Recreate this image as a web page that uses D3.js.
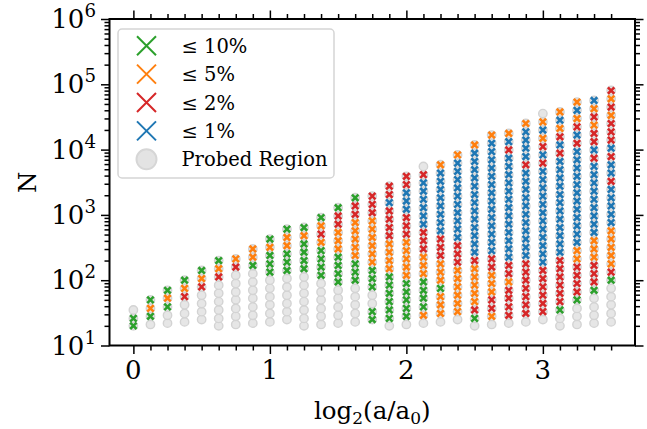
<!DOCTYPE html>
<html>
<head>
<meta charset="utf-8">
<script src="https://cdnjs.cloudflare.com/ajax/libs/d3/7.8.5/d3.min.js"></script>
<style>
  body { margin: 0; background: #ffffff; }
</style>
</head>
<body>
<div id="chart"></div>
<script>
// Column positions, log2(a/a0)
var xValues = [0, 0.125, 0.25, 0.375, 0.5, 0.625, 0.75, 0.875, 1, 1.125, 1.25, 1.375, 1.5, 1.625, 1.75,
	1.875, 2, 2.125, 2.25, 2.375, 2.5, 2.625, 2.75, 2.875, 3, 3.125, 3.25, 3.375, 3.5];

// Probed N for every column, from bottom to top
var probedN = [
	[20, 26, 35],
	[21, 28, 37, 50],
	[22, 29, 39, 53, 70],
	[23, 31, 42, 56, 75, 100],
	[25, 33, 44, 59, 79, 106, 141],
	[20, 26, 35, 47, 63, 84, 112, 150, 200],
	[21, 28, 37, 50, 66, 89, 119, 159, 212],
	[22, 29, 39, 53, 70, 94, 126, 168, 225, 301],
	[23, 31, 42, 56, 75, 100, 133, 178, 239, 319, 427],
	[25, 33, 44, 59, 79, 106, 141, 189, 253, 338, 452, 605],
	[20, 26, 35, 47, 63, 84, 112, 150, 200, 268, 359, 480, 641],
	[21, 28, 37, 50, 66, 89, 119, 159, 212, 284, 380, 508, 680, 910],
	[22, 29, 39, 53, 70, 94, 126, 168, 225, 301, 403, 539, 721, 964, 1290],
	[23, 31, 42, 56, 75, 100, 133, 178, 239, 319, 427, 571, 764, 1020, 1370, 1830],
	[25, 33, 44, 59, 79, 106, 141, 189, 253, 338, 452, 605, 810, 1080, 1450, 1940],
	[20, 26, 35, 47, 63, 84, 112, 150, 200, 268, 359, 480, 641, 858, 1150, 1540, 2050, 2750],
	[21, 28, 37, 50, 66, 89, 119, 159, 212, 284, 380, 508, 680, 910, 1220, 1630, 2180, 2910, 3900],
	[22, 29, 39, 53, 70, 94, 126, 168, 225, 301, 403, 539, 721, 964, 1290, 1730, 2310, 3090, 4130, 5530],
	[23, 31, 42, 56, 75, 100, 133, 178, 239, 319, 427, 571, 764, 1020, 1370, 1830, 2450, 3270, 4380, 5860],
	[25, 33, 44, 59, 79, 106, 141, 189, 253, 338, 452, 605, 810, 1080, 1450, 1940, 2590, 3470, 4640, 6210, 8300],
	[20, 26, 35, 47, 63, 84, 112, 150, 200, 268, 359, 480, 641, 858, 1150, 1540, 2050, 2750, 3680, 4920, 6580,
		8800, 11800],
	[21, 28, 37, 50, 66, 89, 119, 159, 212, 284, 380, 508, 680, 910, 1220, 1630, 2180, 2910, 3900, 5210, 6970,
		9320, 12500, 16700],
	[22, 29, 39, 53, 70, 94, 126, 168, 225, 301, 403, 539, 721, 964, 1290, 1730, 2310, 3090, 4130, 5530, 7390,
		9880, 13200, 17700],
	[23, 31, 42, 56, 75, 100, 133, 178, 239, 319, 427, 571, 764, 1020, 1370, 1830, 2450, 3270, 4380, 5860, 7830,
		10500, 14000, 18700, 25100],
	[25, 33, 44, 59, 79, 106, 141, 189, 253, 338, 452, 605, 810, 1080, 1450, 1940, 2590, 3470, 4640, 6210, 8300,
		11100, 14900, 19900, 26600, 35600],
	[20, 26, 35, 47, 63, 84, 112, 150, 200, 268, 359, 480, 641, 858, 1150, 1540, 2050, 2750, 3680, 4920, 6580,
		8800, 11800, 15700, 21100, 28200, 37700],
	[21, 28, 37, 50, 66, 89, 119, 159, 212, 284, 380, 508, 680, 910, 1220, 1630, 2180, 2910, 3900, 5210, 6970,
		9320, 12500, 16700, 22300, 29900, 40000, 53400],
	[22, 29, 39, 53, 70, 94, 126, 168, 225, 301, 403, 539, 721, 964, 1290, 1730, 2310, 3090, 4130, 5530, 7390,
		9880, 13200, 17700, 23700, 31600, 42300, 56600],
	[23, 31, 42, 56, 75, 100, 133, 178, 239, 319, 427, 571, 764, 1020, 1370, 1830, 2450, 3270, 4380, 5860, 7830,
		10500, 14000, 18700, 25100, 33500, 44900, 60000, 80300]
];

// Error class of each probed point (same order as probedN)
// p = probed only, g = <=10%, o = <=5%, r = <=2%, b = <=1%
var errorClass = [
	'ggp',
	'pgog',
	'ppgog',
	'ppprog',
	'pppprog',
	'pppppprog',
	'pppppppro',
	'pppppppgoo',
	'ppppppgggog',
	'ppppppgggoog',
	'pppppppggggog',
	'ppppppggggorog',
	'pppppggggooorrg',
	'pppppgggooooorrg',
	'ggppgggoooooorrr',
	'pggggggoooorrrrbrr',
	'pgggggooooorrrbbbrr',
	'poggggooorrrbbbbbbrp',
	'pooogooorrrbbbbbbbbo',
	'poooooorrrbbbbbbbbbbo',
	'pgrooooorbbbbbbbbbbbbbo',
	'porrooorrbbbbbbbbbbbbbbo',
	'prrrrorrbbbbbbbbbbbbbrbo',
	'prrrrrrrbbbbbbbbbbbrbbbbo',
	'prrrrrrbbbbbbbbbbbbrbrobop',
	'ppgrrrrrrbbbbbbbbbbbbrbrobo',
	'pppgrrrroobbbbbbbbbbbbrbrobo',
	'ppppgrrrooobbbbbbbbbrbrrorob',
	'pppppgrooooobbbbbrbbrbrrroror'
];

var legendLabels = ['\u2264 10%', '\u2264 5%', '\u2264 2%', '\u2264 1%', 'Probed Region'];
var legendClasses = ['g', 'o', 'r', 'b', 'p'];
var xMajorTicks = [0, 1, 2, 3];
var yMajorTicks = [1e1, 1e2, 1e3, 1e4, 1e5, 1e6];

function Chart() {
	var attrs = {
		svgWidth: 647,
		svgHeight: 429,
		marginTop: 19,
		marginBottom: 83.5,
		marginRight: 12,
		marginLeft: 109.5,
		container: 'body',
		defaultFont: 'DejaVu Serif',
		colors: { g: '#2ca02c', o: '#ff7f0e', r: '#d62728', b: '#1f77b4' },
		majorTick: 8.5,
		minorTick: 5,
		tickFont: 26
	};

	var main = function() {
		var container = d3.select(attrs.container);

		var calc = {};
		calc.chartWidth = attrs.svgWidth - attrs.marginLeft - attrs.marginRight;
		calc.chartHeight = attrs.svgHeight - attrs.marginTop - attrs.marginBottom;

		var svg = container
			.patternify({ tag: 'svg', selector: 'svg-chart-container' })
			.attr('width', attrs.svgWidth)
			.attr('height', attrs.svgHeight)
			.attr('font-family', attrs.defaultFont);

		var chart = svg
			.patternify({ tag: 'g', selector: 'chart' })
			.attr('transform', 'translate(' + attrs.marginLeft + ',' + attrs.marginTop + ')');

		// Scales
		var x = d3.scaleLinear().domain([ -0.175, 3.675 ]).range([ 0, calc.chartWidth ]);
		var y = d3.scaleLog().domain([ 10, 1e6 ]).range([ calc.chartHeight, 0 ]);

		// Flatten points
		var points = [];
		probedN.forEach(function(col, i) {
			col.forEach(function(n, k) {
				points.push({ x: xValues[i], n: n, c: errorClass[i][k] });
			});
		});

		// Probed circles
		chart
			.patternify({ tag: 'circle', selector: 'probe', data: points })
			.attr('cx', (d) => x(d.x))
			.attr('cy', (d) => y(d.n))
			.attr('r', 4.2)
			.attr('fill', '#e6e6e6')
			.attr('stroke', '#d3d3d3')
			.attr('stroke-width', 1.4);

		// Crosses
		var s = 3.2;
		chart
			.patternify({ tag: 'path', selector: 'cross', data: points.filter((d) => d.c !== 'p') })
			.attr('transform', (d) => 'translate(' + x(d.x) + ',' + y(d.n) + ')')
			.attr('d', 'M' + -s + ',' + -s + 'L' + s + ',' + s + 'M' + -s + ',' + s + 'L' + s + ',' + -s)
			.attr('stroke', (d) => attrs.colors[d.c])
			.attr('stroke-width', 2.6)
			.attr('fill', 'none');

		// Axes
		var minorX = xValues.filter((v) => xMajorTicks.indexOf(v) < 0);
		var minorY = [];
		yMajorTicks.slice(0, -1).forEach(function(t) {
			for (var k = 2; k <= 9; k++) minorY.push(t * k);
		});

		function tickAxis(axisFn, scale, values, len, selector, transform) {
			var g = chart
				.patternify({ tag: 'g', selector: selector })
				.attr('transform', transform)
				.call(axisFn(scale).tickValues(values).tickSize(len).tickFormat(''));
			g.select('.domain').remove();
			g.selectAll('.tick line').attr('stroke', '#000').attr('stroke-width', 1.5);
			return g;
		}

		tickAxis(d3.axisBottom, x, minorX, attrs.minorTick, 'x-minor-b', 'translate(0,' + calc.chartHeight + ')');
		tickAxis(d3.axisBottom, x, xMajorTicks, attrs.majorTick, 'x-major-b', 'translate(0,' + calc.chartHeight + ')');
		tickAxis(d3.axisTop, x, minorX, attrs.minorTick, 'x-minor-t', 'translate(0,0)');
		tickAxis(d3.axisTop, x, xMajorTicks, attrs.majorTick, 'x-major-t', 'translate(0,0)');
		tickAxis(d3.axisLeft, y, minorY, attrs.minorTick, 'y-minor-l', 'translate(0,0)');
		tickAxis(d3.axisLeft, y, yMajorTicks, attrs.majorTick, 'y-major-l', 'translate(0,0)');
		tickAxis(d3.axisRight, y, minorY, attrs.minorTick, 'y-minor-r', 'translate(' + calc.chartWidth + ',0)');
		tickAxis(d3.axisRight, y, yMajorTicks, attrs.majorTick, 'y-major-r', 'translate(' + calc.chartWidth + ',0)');

		// Tick labels
		chart
			.patternify({ tag: 'text', selector: 'x-label', data: xMajorTicks })
			.attr('x', (d) => x(d))
			.attr('y', calc.chartHeight + attrs.majorTick + 25)
			.attr('text-anchor', 'middle')
			.attr('font-size', attrs.tickFont)
			.text((d) => d);

		var yLabels = chart
			.patternify({ tag: 'text', selector: 'y-label', data: yMajorTicks })
			.attr('x', -attrs.majorTick - 5)
			.attr('y', (d) => y(d) + 9)
			.attr('text-anchor', 'end')
			.attr('font-size', attrs.tickFont);
		yLabels.selectAll('tspan').remove();
		yLabels.append('tspan').text('10');
		yLabels
			.append('tspan')
			.attr('dy', -11)
			.attr('font-size', attrs.tickFont * 0.7)
			.text((d) => Math.round(Math.log10(d)));

		// Frame
		chart
			.patternify({ tag: 'rect', selector: 'frame' })
			.attr('width', calc.chartWidth)
			.attr('height', calc.chartHeight)
			.attr('fill', 'none')
			.attr('stroke', '#000')
			.attr('stroke-width', 2);

		// Axis titles
		var xt = svg
			.patternify({ tag: 'text', selector: 'x-title' })
			.attr('x', attrs.marginLeft + calc.chartWidth / 2)
			.attr('y', 419)
			.attr('text-anchor', 'middle')
			.attr('font-size', 24.5);
		xt.selectAll('tspan').remove();
		xt.append('tspan').text('log');
		xt.append('tspan').attr('font-size', 17).attr('dy', 5).text('2');
		xt.append('tspan').attr('dy', -5).text('(a/a');
		xt.append('tspan').attr('font-size', 17).attr('dy', 5).text('0');
		xt.append('tspan').attr('dy', -5).text(')');

		svg
			.patternify({ tag: 'text', selector: 'y-title' })
			.attr('transform', 'translate(36,' + (attrs.marginTop + calc.chartHeight / 2) + ') rotate(-90)')
			.attr('text-anchor', 'middle')
			.attr('font-size', 24.5)
			.text('N');

		// Legend
		var legend = svg
			.patternify({ tag: 'g', selector: 'legend' })
			.attr('transform', 'translate(118,29)');

		legend
			.patternify({ tag: 'rect', selector: 'legend-box' })
			.attr('width', 216)
			.attr('height', 149)
			.attr('rx', 4)
			.attr('fill', '#ffffff')
			.attr('fill-opacity', 0.8)
			.attr('stroke', '#d5d5d5')
			.attr('stroke-width', 1.5);

		var rows = legend
			.patternify({ tag: 'g', selector: 'legend-row', data: legendClasses })
			.attr('transform', (d, i) => 'translate(28.5,' + (16.7 + i * 28.4) + ')');

		rows.selectAll('*').remove();
		var L = 9.5;
		rows
			.filter((d) => d !== 'p')
			.append('path')
			.attr('d', 'M' + -L + ',' + -L + 'L' + L + ',' + L + 'M' + -L + ',' + L + 'L' + L + ',' + -L)
			.attr('stroke', (d) => attrs.colors[d])
			.attr('stroke-width', 2);
		rows
			.filter((d) => d === 'p')
			.append('circle')
			.attr('r', 10)
			.attr('fill', '#e3e3e3')
			.attr('stroke', '#d6d6d6')
			.attr('stroke-width', 2);
		rows
			.append('text')
			.attr('x', 35)
			.attr('y', 7)
			.attr('font-size', 19.5)
			.text((d, i) => legendLabels[i]);
	};

	d3.selection.prototype.patternify = function(params) {
		var container = this;
		var selector = params.selector;
		var elementTag = params.tag;
		var data = params.data || [ selector ];

		var selection = container.selectAll('.' + selector).data(data, (d, i) => i);
		selection.exit().remove();
		selection = selection.enter().append(elementTag).merge(selection);
		selection.attr('class', selector);
		return selection;
	};

	Object.keys(attrs).forEach((key) => {
		main[key] = function(_) {
			if (!arguments.length) return attrs[key];
			attrs[key] = _;
			return main;
		};
	});

	main.render = function() {
		main();
		return main;
	};

	return main;
}

Chart().container('#chart').render();
</script>
</body>
</html>
